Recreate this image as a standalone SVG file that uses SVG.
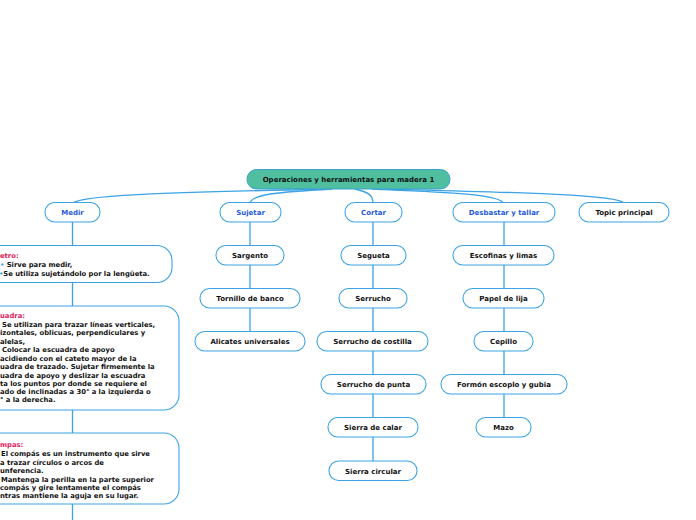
<svg xmlns="http://www.w3.org/2000/svg" width="696" height="520" viewBox="0 0 696 520">
<style>
text{font-family:"DejaVu Sans",Verdana,sans-serif;font-weight:bold;font-size:7px;fill:#111}
.n rect{fill:#fff;stroke:#3ba3e6;stroke-width:1.1}
.c{text-anchor:middle}
.b{fill:#1f5ad8}
.r{fill:#e2185a}
.bl{fill:#3aa8e6}
.s{font-size:6.8px}
#connectors path,#connectors line{fill:none;stroke:#3ba3e6;stroke-width:1.3}
</style>
<rect width="696" height="520" fill="#fff"/>
<g id="connectors">
<path d="M322,189 C220,192 84,193 73,203"/>
<path d="M332,189 C280,192 252,194 250,203"/>
<path d="M355,189 C368,192 373,195 373,203"/>
<path d="M372,189 C440,192 500,194 503,203"/>
<path d="M380,189 C500,192 618,194 624,203"/>
<line x1="72.5" y1="222" x2="72.5" y2="520"/>
<line x1="250" y1="222" x2="250" y2="331"/>
<line x1="373" y1="222" x2="373" y2="461"/>
<line x1="504" y1="222" x2="504" y2="417"/>
</g>
<g id="root"><rect x="247" y="169.5" width="203" height="19.5" rx="9.5" fill="#4fbf9f" stroke="#3c9fcf" stroke-width="1"/><text class="c" x="348.5" y="182">Operaciones y herramientas para madera 1</text></g>
<g id="medir" class="n"><rect x="45" y="202.5" width="55" height="19.5" rx="9.5"/><text class="c b" x="72.5" y="215">Medir</text></g>
<g id="sujetar" class="n"><rect x="220" y="202.5" width="61" height="19.5" rx="9.5"/><text class="c b" x="250.5" y="215">Sujetar</text></g>
<g id="cortar" class="n"><rect x="345" y="202.5" width="57" height="19.5" rx="9.5"/><text class="c b" x="373.5" y="215">Cortar</text></g>
<g id="desbastar" class="n"><rect x="453" y="202.5" width="102" height="19.5" rx="9.5"/><text class="c b" x="504" y="215">Desbastar y tallar</text></g>
<g id="topic" class="n"><rect x="579" y="202.5" width="90" height="19.5" rx="9.5"/><text class="c" x="624" y="215">Topic principal</text></g>
<g id="metro" class="n"><rect x="-20" y="245.5" width="192" height="37" rx="15"/>
<text class="r s" x="0" y="257.5">etro:</text>
<text class="s" x="0" y="266.5"><tspan class="bl">•</tspan> Sirve para medir,</text>
<text class="s" x="-1" y="275.5"><tspan class="bl">•</tspan>Se utiliza sujetándolo por la lengüeta.</text>
</g>
<g id="escuadra" class="n"><rect x="-20" y="306" width="199" height="104" rx="15"/>
<text class="r s" x="0" y="317.5">uadra:</text>
<text class="s" x="2" y="326.5">Se utilizan para trazar líneas verticales,</text>
<text class="s" x="0" y="335">izontales, oblicuas, perpendiculares y</text>
<text class="s" x="0" y="343.5">alelas,</text>
<text class="s" x="2" y="352">Colocar la escuadra de apoyo</text>
<text class="s" x="0" y="360.5">acidiendo con el cateto mayor de la</text>
<text class="s" x="0" y="369">uadra de trazado. Sujetar firmemente la</text>
<text class="s" x="0" y="377.5">uadra de apoyo y deslizar la escuadra</text>
<text class="s" x="0" y="385.5">ta los puntos por donde se requiere el</text>
<text class="s" x="0" y="394">ado de inclinadas a 30° a la izquierda o</text>
<text class="s" x="0" y="402">° a la derecha.</text>
</g>
<g id="compas" class="n"><rect x="-20" y="433" width="199" height="71" rx="15"/>
<text class="r s" x="0" y="446.5">mpas:</text>
<text class="s" x="1" y="455.5">El compás es un instrumento que sirve</text>
<text class="s" x="0" y="464.5">a trazar círculos o arcos de</text>
<text class="s" x="0" y="473">unferencia.</text>
<text class="s" x="1" y="481.5">Mantenga la perilla en la parte superior</text>
<text class="s" x="0" y="489.5">compás y gire lentamente el compás</text>
<text class="s" x="0" y="498">ntras mantiene la aguja en su lugar.</text>
</g>
<g id="sargento" class="n"><rect x="216" y="245.5" width="68" height="19.5" rx="9.5"/><text class="c" x="250" y="258">Sargento</text></g>
<g id="tornillo" class="n"><rect x="200" y="288.5" width="100" height="19.5" rx="9.5"/><text class="c" x="250" y="301">Tornillo de banco</text></g>
<g id="alicates" class="n"><rect x="195" y="331.5" width="110" height="19.5" rx="9.5"/><text class="c" x="250" y="344">Alicates universales</text></g>
<g id="segueta" class="n"><rect x="341" y="245.5" width="65" height="19.5" rx="9.5"/><text class="c" x="373.5" y="258">Segueta</text></g>
<g id="serrucho" class="n"><rect x="339" y="288.5" width="68" height="19.5" rx="9.5"/><text class="c" x="373" y="301">Serrucho</text></g>
<g id="costilla" class="n"><rect x="317" y="331.5" width="111" height="19.5" rx="9.5"/><text class="c" x="372.5" y="344">Serrucho de costilla</text></g>
<g id="punta" class="n"><rect x="321" y="374.5" width="105" height="19.5" rx="9.5"/><text class="c" x="373.5" y="387">Serrucho de punta</text></g>
<g id="calar" class="n"><rect x="328" y="417.5" width="90" height="19.5" rx="9.5"/><text class="c" x="373" y="430">Sierra de calar</text></g>
<g id="circular" class="n"><rect x="329" y="461" width="88" height="19.5" rx="9.5"/><text class="c" x="373" y="473.5">Sierra circular</text></g>
<g id="escofinas" class="n"><rect x="453" y="245.5" width="101" height="19.5" rx="9.5"/><text class="c" x="503.5" y="258">Escofinas y limas</text></g>
<g id="papel" class="n"><rect x="463" y="288.5" width="81" height="19.5" rx="9.5"/><text class="c" x="503.5" y="301">Papel de lija</text></g>
<g id="cepillo" class="n"><rect x="474" y="331.5" width="59" height="19.5" rx="9.5"/><text class="c" x="503.5" y="344">Cepillo</text></g>
<g id="formon" class="n"><rect x="441" y="374.5" width="126" height="19.5" rx="9.5"/><text class="c" x="504" y="387">Formón escoplo y gubia</text></g>
<g id="mazo" class="n"><rect x="476" y="417.5" width="55" height="19.5" rx="9.5"/><text class="c" x="503.5" y="430">Mazo</text></g>
</svg>
